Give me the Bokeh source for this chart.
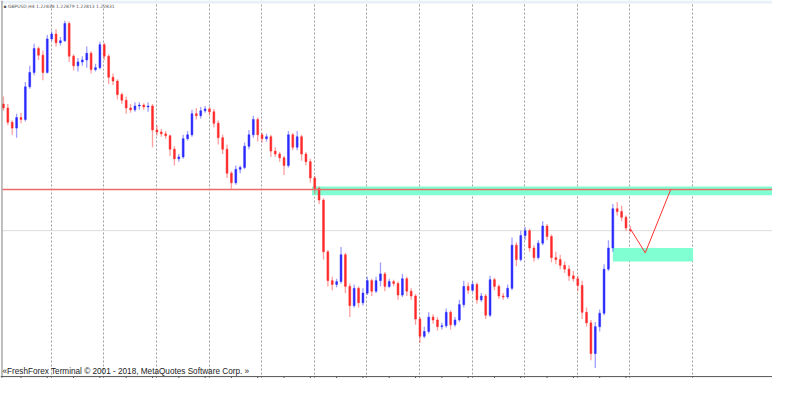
import numpy as np
from bokeh.plotting import figure
from bokeh.models import Range1d, ColumnDataSource, Grid, FixedTicker, Label, BoxAnnotation, Span
from bokeh.embed import file_html
from bokeh.resources import INLINE

# ---------------- data (GBPUSD H4) ----------------
symbol = "GBPUSD,H4"
open_ = [1.2415, 1.2411, 1.2396, 1.2390, 1.2401, 1.2399, 1.2433, 1.2448, 1.2473, 1.2466,
         1.2448, 1.2483, 1.2488, 1.2479, 1.2481, 1.2499, 1.2465, 1.2455, 1.2459, 1.2461,
         1.2468, 1.2451, 1.2453, 1.2477, 1.2465, 1.2443, 1.2439, 1.2425, 1.2419, 1.2411,
         1.2409, 1.2413, 1.2414, 1.2412, 1.2413, 1.2388, 1.2386, 1.2384, 1.2382, 1.2368,
         1.2358, 1.2360, 1.2379, 1.2383, 1.2405, 1.2403, 1.2408, 1.2410, 1.2407, 1.2395,
         1.2380, 1.2368, 1.2343, 1.2333, 1.2347, 1.2349, 1.2371, 1.2383, 1.2399, 1.2383,
         1.2379, 1.2381, 1.2366, 1.2363, 1.2359, 1.2351, 1.2383, 1.2370, 1.2381, 1.2363,
         1.2355, 1.2338, 1.2327, 1.2315, 1.2261, 1.2231, 1.2227, 1.2230, 1.2258, 1.2225,
         1.2205, 1.2223, 1.2208, 1.2218, 1.2231, 1.2220, 1.2231, 1.2238, 1.2225, 1.2230,
         1.2228, 1.2216, 1.2233, 1.2220, 1.2215, 1.2191, 1.2173, 1.2178, 1.2193, 1.2190,
         1.2183, 1.2184, 1.2198, 1.2185, 1.2190, 1.2206, 1.2225, 1.2221, 1.2227, 1.2211,
         1.2215, 1.2195, 1.2232, 1.2225, 1.2215, 1.2214, 1.2223, 1.2268, 1.2253, 1.2278,
         1.2283, 1.2265, 1.2255, 1.2270, 1.2288, 1.2277, 1.2255, 1.2253, 1.2247, 1.2243,
         1.2236, 1.2233, 1.2226, 1.2198, 1.2187, 1.2155, 1.2183, 1.2197, 1.2243, 1.2265,
         1.2306, 1.2303, 1.2297, 1.22838]
high = [1.2423, 1.2415, 1.2398, 1.2405, 1.2406, 1.2438, 1.2455, 1.2478, 1.2475, 1.2471,
        1.2487, 1.2491, 1.2493, 1.2485, 1.2502, 1.2501, 1.2467, 1.2463, 1.2465, 1.2475,
        1.2470, 1.2457, 1.2480, 1.2479, 1.2467, 1.2447, 1.2441, 1.2427, 1.2423, 1.2415,
        1.2417, 1.2417, 1.2416, 1.2417, 1.2415, 1.2393, 1.2389, 1.2387, 1.2383, 1.2371,
        1.2363, 1.2383, 1.2387, 1.2409, 1.2411, 1.2412, 1.2413, 1.2412, 1.2410, 1.2398,
        1.2383, 1.2373, 1.2345, 1.2351, 1.2351, 1.2375, 1.2388, 1.2403, 1.2401, 1.2385,
        1.2384, 1.2383, 1.2370, 1.2365, 1.2361, 1.2387, 1.2385, 1.2387, 1.2383, 1.2365,
        1.2358, 1.2340, 1.2329, 1.2317, 1.2263, 1.2235, 1.2233, 1.2266, 1.2260, 1.2228,
        1.2227, 1.2225, 1.2223, 1.2235, 1.2233, 1.2235, 1.2250, 1.2240, 1.2233, 1.2232,
        1.2230, 1.2238, 1.2235, 1.2223, 1.2217, 1.2193, 1.2183, 1.2198, 1.2196, 1.2193,
        1.2187, 1.2202, 1.2200, 1.2193, 1.2211, 1.2231, 1.2229, 1.2230, 1.2229, 1.2218,
        1.2217, 1.2236, 1.2234, 1.2227, 1.2218, 1.2227, 1.2276, 1.2271, 1.2283, 1.2287,
        1.2285, 1.2268, 1.2273, 1.2293, 1.2290, 1.2279, 1.2261, 1.2258, 1.2251, 1.2247,
        1.2241, 1.2236, 1.2231, 1.2203, 1.2190, 1.2188, 1.2201, 1.2248, 1.2273, 1.2311,
        1.2313, 1.2309, 1.2299, 1.22879]
low = [1.2408, 1.2393, 1.2383, 1.2380, 1.2395, 1.2397, 1.2431, 1.2445, 1.2461, 1.2440,
       1.2447, 1.2481, 1.2475, 1.2476, 1.2480, 1.2459, 1.2450, 1.2449, 1.2455, 1.2453,
       1.2447, 1.2449, 1.2451, 1.2461, 1.2436, 1.2435, 1.2420, 1.2415, 1.2405, 1.2406,
       1.2407, 1.2409, 1.2409, 1.2407, 1.2370, 1.2382, 1.2381, 1.2379, 1.2361, 1.2351,
       1.2355, 1.2358, 1.2377, 1.2381, 1.2399, 1.2400, 1.2406, 1.2403, 1.2391, 1.2373,
       1.2363, 1.2338, 1.2326, 1.2331, 1.2343, 1.2347, 1.2368, 1.2380, 1.2376, 1.2375,
       1.2376, 1.2360, 1.2360, 1.2355, 1.2341, 1.2349, 1.2367, 1.2367, 1.2356, 1.2351,
       1.2333, 1.2321, 1.2311, 1.2253, 1.2225, 1.2221, 1.2224, 1.2228, 1.2218, 1.2193,
       1.2203, 1.2203, 1.2205, 1.2216, 1.2215, 1.2218, 1.2225, 1.2220, 1.2223, 1.2225,
       1.2211, 1.2214, 1.2215, 1.2211, 1.2185, 1.2166, 1.2171, 1.2176, 1.2186, 1.2179,
       1.2180, 1.2182, 1.2180, 1.2183, 1.2188, 1.2203, 1.2217, 1.2219, 1.2207, 1.2209,
       1.2191, 1.2193, 1.2221, 1.2212, 1.2211, 1.2212, 1.2221, 1.2246, 1.2251, 1.2273,
       1.2261, 1.2251, 1.2253, 1.2268, 1.2273, 1.2250, 1.2248, 1.2243, 1.2239, 1.2231,
       1.2230, 1.2220, 1.2191, 1.2183, 1.2148, 1.2140, 1.2178, 1.2195, 1.2241, 1.2261,
       1.2299, 1.2293, 1.2283, 1.22813]
close = [1.2411, 1.2396, 1.2390, 1.2401, 1.2399, 1.2433, 1.2448, 1.2473, 1.2466, 1.2448,
         1.2483, 1.2488, 1.2479, 1.2481, 1.2499, 1.2465, 1.2455, 1.2459, 1.2461, 1.2468,
         1.2451, 1.2453, 1.2477, 1.2465, 1.2443, 1.2439, 1.2425, 1.2419, 1.2411, 1.2409,
         1.2413, 1.2414, 1.2412, 1.2413, 1.2388, 1.2386, 1.2384, 1.2382, 1.2368, 1.2358,
         1.2360, 1.2379, 1.2383, 1.2405, 1.2403, 1.2408, 1.2410, 1.2407, 1.2395, 1.2380,
         1.2368, 1.2343, 1.2333, 1.2347, 1.2349, 1.2371, 1.2383, 1.2399, 1.2383, 1.2379,
         1.2381, 1.2366, 1.2363, 1.2359, 1.2351, 1.2383, 1.2370, 1.2381, 1.2363, 1.2355,
         1.2338, 1.2327, 1.2315, 1.2261, 1.2231, 1.2227, 1.2230, 1.2258, 1.2225, 1.2205,
         1.2223, 1.2208, 1.2218, 1.2231, 1.2220, 1.2231, 1.2238, 1.2225, 1.2230, 1.2228,
         1.2216, 1.2233, 1.2220, 1.2215, 1.2191, 1.2173, 1.2178, 1.2193, 1.2190, 1.2183,
         1.2184, 1.2198, 1.2185, 1.2190, 1.2206, 1.2225, 1.2221, 1.2227, 1.2211, 1.2215,
         1.2195, 1.2232, 1.2225, 1.2215, 1.2214, 1.2223, 1.2268, 1.2253, 1.2278, 1.2283,
         1.2265, 1.2255, 1.2270, 1.2288, 1.2277, 1.2255, 1.2253, 1.2247, 1.2243, 1.2236,
         1.2233, 1.2226, 1.2198, 1.2187, 1.2155, 1.2183, 1.2197, 1.2243, 1.2265, 1.2306,
         1.2303, 1.2297, 1.2286, 1.22831]

# time grid (bar index of each vertical grid line) and time-scale tick marks
grid_bars = [10.9, 22.9, 34.9, 46.9, 58.9, 70.9, 82.9, 94.9, 106.9, 118.9, 130.9, 142.9, 157.2]
tick_bars = list(range(4, 143, 6))

# drawn objects
level_price = 1.2326
zone1_bars = [70.4, 176.0]
zone1_prices = [1.2320, 1.2329]
zone2_bars = [139.0, 157.3]
zone2_prices = [1.2251, 1.2265]
path_bars = [143.0, 146.4, 152.2]
path_prices = [1.2285, 1.2260, 1.2326]

copyright_text = "\u00abFreshForex Terminal \u00a9 2001 - 2018, MetaQuotes Software Corp. \u00bb"

# ---------------- layout helpers (window chrome in screen pixels) ----------------
X0, STEP = 3.0, 4.475
BASE, PIP = 1.2523, 0.0001
def bx(px):
    return (px - X0) / STEP
def py(px):
    return BASE - px * PIP

W, H = 772, 378
p = figure(width=W, height=H, output_backend="svg", toolbar_location=None,
           x_axis_location=None, y_axis_location=None, min_border=0,
           x_range=Range1d(bx(0), bx(788)), y_range=Range1d(py(394), py(0)),
           background_fill_color="white", border_fill_color="white",
           outline_line_color=None)
p.xgrid.visible = False
p.ygrid.visible = False

p.add_layout(Grid(dimension=0, ticker=FixedTicker(ticks=grid_bars),
                  grid_line_color="#9c9c9c", grid_line_dash="2 2", grid_line_width=1))

# bid line (under the bars)
p.segment(x0=[bx(2)], x1=[bx(788)], y0=[close[-1]], y1=[close[-1]],
          line_color="#dcdcdc", line_width=1)

# zones
p.quad(left=[zone1_bars[0], zone2_bars[0]], right=[zone1_bars[1], zone2_bars[1]],
       bottom=[zone1_prices[0], zone2_prices[0]], top=[zone1_prices[1], zone2_prices[1]],
       fill_color="#80ffd2", line_color=None)

# bars
o = np.array(open_); c = np.array(close); h = np.array(high); l = np.array(low)
x = np.arange(len(c))
up = c >= o
col = np.where(up, "#2a2aff", "#ff2a2a")
src = ColumnDataSource(dict(x=x, o=o, c=c, h=h, l=l, top=np.maximum(o, c),
                            bot=np.minimum(o, c), col=col))
p.segment(x0="x", x1="x", y0="l", y1="h", source=src, line_color="col",
          line_alpha=0.45, line_width=1.3)
p.vbar(x="x", top="top", bottom="bot", width=0.42, source=src, fill_color="col",
       line_color="col", line_width=0.5)

# horizontal level line
p.segment(x0=[bx(2)], x1=[bx(788)], y0=[level_price], y1=[level_price],
          line_color="#ec6a6a", line_width=1.5)

# projected path
p.line(path_bars, path_prices, line_color="#ff3030", line_width=1)

# window chrome
p.add_layout(BoxAnnotation(bottom=py(3), fill_color="#e8f0f8", fill_alpha=1, line_color=None))
p.add_layout(Span(location=bx(1.5), dimension="height", line_color="#808080", line_width=1))
p.add_layout(Span(location=py(392), dimension="width", line_color="#555555", line_width=1))
p.segment(x0=tick_bars, x1=tick_bars, y0=[py(392)] * len(tick_bars), y1=[py(394)] * len(tick_bars),
          line_color="#555555", line_width=1)

header = f"\u25aa {symbol} {open_[-1]:.5f} {high[-1]:.5f} {low[-1]:.5f} {close[-1]:.5f}"
p.add_layout(Label(x=bx(3), y=py(6.5), text=header, text_font="DejaVu Sans",
                   text_font_size="4.5px", text_color="#555555", text_baseline="middle"))
p.add_layout(Label(x=bx(2), y=py(387), text=copyright_text, text_font="Liberation Sans",
                   text_font_size="8.2px", text_color="#222222", text_baseline="middle"))

open("out.html", "w").write(file_html(p, INLINE))
